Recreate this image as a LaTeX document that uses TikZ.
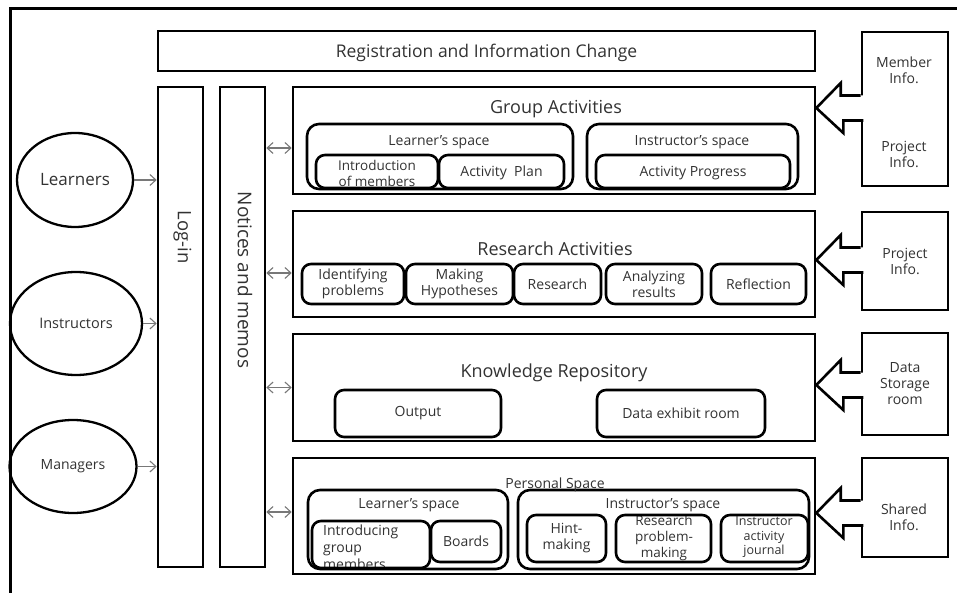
\documentclass[tikz,border=0pt]{standalone}
\usepackage{fontspec}
\setmainfont{Open Sans}
\usetikzlibrary{shapes.geometric,arrows.meta,calc}
\definecolor{txt}{RGB}{50,50,50}
\definecolor{linkgray}{RGB}{120,120,120}

% block arrow from an information box (#2) to a tip coordinate (#1)
\newcommand{\infoarrow}[2]{%
  \fill[white] ($(#2.west|-#1)+(2.5,-12.5)$) -- ++(-22.5,0) -- ++(0,-12.5) -- ($(#1)+(1.5,0)$)
     -- ($(#1)+(28.5,25)$) -- ++(0,-12.5) -- ++(22.5,0) -- cycle;
  \draw[blockline] ($(#2.west|-#1)+(0,-12.5)$) -- ++(-20,0) -- ++(0,-12.5) -- (#1)
     -- ++(27,25) -- ++(0,-12.5) -- ++(20,0);
}

\tikzset{
  sqbox/.style={draw, line width=2.6pt, inner sep=0pt, align=center, text=txt},
  rbox/.style={sqbox, rounded corners=9pt},
  actor/.style={ellipse, draw, line width=2.3pt, inner sep=0pt, text=txt},
  lbl/.style={text=txt, inner sep=0pt, align=center, yshift=-2pt},
  title/.style={lbl, font=\fontsize{18}{21}\selectfont},
  small/.style={font=\fontsize{14}{16}\selectfont},
  info/.style={font=\fontsize{14}{16}\selectfont},
  feed/.style={draw=linkgray, line width=1.1pt, -{Straight Barb[length=6pt,width=11pt]}},
  link/.style={draw=linkgray, line width=1.1pt, {Straight Barb[length=6pt,width=11pt]}-{Straight Barb[length=6pt,width=11pt]}},
  blockline/.style={draw, line width=2.6pt, line join=miter},
  frame/.style={draw, line width=3pt},
}

\begin{document}
\begin{tikzpicture}[x=1pt,y=-1pt]
\useasboundingbox (0,0) rectangle (957,593);

% outer frame
\draw[frame] (10,600) -- (10,9) -- (960,9);

% top bar and vertical bars
\node[sqbox, minimum width=657pt, minimum height=40pt, text depth=0pt, font=\fontsize{17.5}{20}\selectfont] (reg) at (486.5,51) {Registration and Information Change};
\node[sqbox, minimum width=45pt, minimum height=480pt] (login) at (180.5,327) {};
\node[sqbox, minimum width=45pt, minimum height=480pt] (nm) at (242.5,327) {};
\node[lbl, rotate=-90, yshift=2pt, font=\fontsize{18.5}{20}\selectfont] (logint) at (180.5,235) {Log-in};
\node[lbl, rotate=-90, yshift=2pt, font=\fontsize{19}{22}\selectfont] (nmt) at (243,278) {Notices and memos};

% users
\node[actor, minimum width=116pt, minimum height=94pt, font=\fontsize{17}{19}\selectfont] (ln) at (75,180) {Learners};
\node[actor, minimum width=132pt, minimum height=103pt, font=\fontsize{14.5}{16}\selectfont] (ins) at (76,323.5) {Instructors};
\node[actor, minimum width=127pt, minimum height=93pt, font=\fontsize{14}{16}\selectfont] (mg) at (73,466.5) {Managers};

\draw[feed] (ln.east) -- (login.west |- ln.east);
\draw[feed] (ins.east) -- (login.west |- ins.east);
\draw[feed] (mg.east) -- (login.west |- mg.east);

% main areas
\node[sqbox, minimum width=522pt, minimum height=107pt] (ga) at (554,140.5) {};
\node[sqbox, minimum width=522pt, minimum height=106pt] (ra) at (554,264) {};
\node[sqbox, minimum width=522pt, minimum height=107pt] (kr) at (554,387.5) {};
\node[sqbox, minimum width=522pt, minimum height=116pt] (ps) at (554,516) {};

\draw[link] ([yshift=-7.5pt]nm.east |- ga.west) -- ([yshift=-7.5pt]ga.west);
\draw[link] ([yshift=-9pt]nm.east |- ra.west) -- ([yshift=-9pt]ra.west);
\draw[link] (nm.east |- kr.west) -- (kr.west);
\draw[link] ([yshift=4pt]nm.east |- ps.west) -- ([yshift=4pt]ps.west);

% Group Activities
\node[title] (gat) at (556,107.5) {Group Activities};
\node[rbox, rounded corners=12pt, minimum width=266pt, minimum height=65pt] (ls1) at (440,156.5) {};
\node[lbl, small] (ls1t) at (439,140) {Learner's space};
\node[rbox, rounded corners=12pt, minimum width=211pt, minimum height=65pt] (is1) at (692.5,156.5) {};
\node[lbl, small] (is1t) at (692,140) {Instructor's space};
\node[lbl, font=\fontsize{13.5}{16}\selectfont] (introt) at (377,171.5) {Introduction\\of members};
\node[rbox, minimum width=122pt, minimum height=33pt] (intro) at (377,171.5) {};
\node[rbox, small, minimum width=125pt, minimum height=33pt, text depth=0pt] (plan) at (501.5,171.5) {Activity\ \ Plan};
\node[rbox, small, minimum width=194pt, minimum height=33pt, text depth=0pt] (prog) at (693,171.5) {Activity Progress};

% Research Activities
\node[title] (rat) at (555,247) {Research Activities};
\node[rbox, small, minimum width=102pt, minimum height=40pt] (idp) at (353,284) {Identifying\\problems};
\node[rbox, small, minimum width=107pt, minimum height=40pt] (mh) at (459.5,284) {Making\\Hypotheses};
\node[rbox, small, minimum width=87pt, minimum height=40pt] (res) at (557.5,284) {Research};
\node[rbox, small, minimum width=96pt, minimum height=40pt] (ar) at (654,284) {Analyzing\\results};
\node[rbox, small, minimum width=95pt, minimum height=40pt] (rf) at (758.5,284) {Reflection};

% Knowledge Repository
\node[title] (krt) at (554,371) {Knowledge Repository};
\node[rbox, small, minimum width=166pt, minimum height=47pt] (outp) at (418,413.5) {Output};
\node[rbox, small, minimum width=168pt, minimum height=47pt] (dx) at (681,413.5) {Data exhibit room};

% Personal Space
\node[rbox, rounded corners=12pt, minimum width=200pt, minimum height=79pt] (ls2) at (408,529.5) {};
\node[rbox, rounded corners=12pt, minimum width=291pt, minimum height=79pt] (is2) at (663.5,529.5) {};
\node[lbl, font=\fontsize{14}{16}\selectfont] (pst) at (555,482.5) {Personal Space};
\node[lbl, small] (ls2t) at (409,503) {Learner's space};
\node[lbl, small] (is2t) at (663,503) {Instructor's space};
\node[lbl, align=left, anchor=west, font=\fontsize{14}{17}\selectfont] (igmt) at (323,545) {Introducing\\group\\members};
\node[rbox, minimum width=118pt, minimum height=47pt] (igm) at (371,544.5) {};
\node[rbox, small, minimum width=70pt, minimum height=41pt] (brd) at (466,541.5) {Boards};
\node[rbox, font=\fontsize{14}{16}\selectfont, minimum width=79pt, minimum height=47pt] (hint) at (566.5,538.5) {Hint-\\making};
\node[lbl, font=\fontsize{13.5}{16}\selectfont] (rpmt) at (664,536) {Research\\problem-\\making};
\node[rbox, minimum width=95pt, minimum height=47pt] (rpm) at (663.5,538.5) {};
\node[lbl, font=\fontsize{12.5}{14.5}\selectfont] (iajt) at (764,535.5) {Instructor\\activity\\journal};
\node[rbox, minimum width=87pt, minimum height=47pt] (iaj) at (764.5,538.5) {};

% information sources
\node[sqbox, minimum width=86pt, minimum height=154pt] (inf1) at (905,109) {};
\node[lbl, info] (inf1a) at (904,68) {Member\\Info.};
\node[lbl, info] (inf1b) at (904,152) {Project\\Info.};
\node[sqbox, info, minimum width=86pt, minimum height=98pt] (inf2) at (905,261) {Project\\Info.};
\node[sqbox, info, minimum width=86pt, minimum height=102pt] (inf3) at (905,384) {Data\\Storage\\room};
\node[sqbox, minimum width=86pt, minimum height=99pt] (inf4) at (905,507.5) {};
\node[lbl, info] (inf4t) at (904,515) {Shared\\Info.};

\coordinate (a1) at (ga.east |- 0,108);
\coordinate (a2) at (ra.east |- 0,260);
\coordinate (a3) at (kr.east |- 0,385);
\coordinate (a4) at (ps.east |- 0,513);
\infoarrow{a1}{inf1}
\infoarrow{a2}{inf2}
\infoarrow{a3}{inf3}
\infoarrow{a4}{inf4}
\end{tikzpicture}
\end{document}
